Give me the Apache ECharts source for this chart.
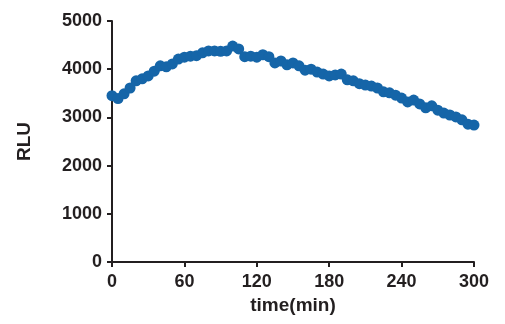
<!DOCTYPE html>
<html lang="en">
<head>
    <meta charset="UTF-8">
    <title>RLU over time</title>
    <script src="https://cdn.jsdelivr.net/npm/echarts@6/dist/echarts.min.js"></script>
</head>
<body style="margin:0;background:#fff">
    <div id="main" style="width:505px;height:324px;"></div>
    <script type="text/javascript">
        // time points (min), one every 5 min
        var times = [];
        for (var t = 0; t <= 300; t += 5) times.push(t);

        // RLU
        var rlu = [3450, 3390, 3490, 3610, 3760, 3800, 3860, 3960, 4070, 4050,
                   4110, 4210, 4250, 4270, 4280, 4340, 4380, 4380, 4370, 4380,
                   4480, 4420, 4260, 4270, 4250, 4300, 4260, 4130, 4170, 4090,
                   4130, 4070, 3980, 4000, 3940, 3900, 3860, 3880, 3900, 3780,
                   3760, 3700, 3670, 3650, 3610, 3530, 3510, 3460, 3400, 3320,
                   3360, 3280, 3200, 3240, 3150, 3090, 3050, 3010, 2950, 2860,
                   2840];

        var xTicks = [0, 60, 120, 180, 240, 300];
        var yTicks = [0, 1000, 2000, 3000, 4000, 5000];

        var points = [];
        for (var i = 0; i < times.length; i++) {
            points.push([times[i], rlu[i]]);
        }

        var myChart = echarts.init(document.getElementById('main'));

        var axisFont = {
            color: '#231f20',
            fontFamily: 'Liberation Sans, Arial, sans-serif',
            fontWeight: 'bold'
        };

        var option = {
            animation: false,
            grid: { left: 112, right: 31, top: 21, bottom: 62 },
            xAxis: {
                type: 'value',
                min: xTicks[0],
                max: xTicks[xTicks.length - 1],
                interval: 60,
                name: 'time(min)',
                nameLocation: 'middle',
                nameGap: 31,
                nameTextStyle: Object.assign({ fontSize: 19 }, axisFont),
                axisLine: { lineStyle: { color: '#231f20', width: 2 } },
                axisTick: { length: 5, lineStyle: { color: '#231f20', width: 2 } },
                axisLabel: Object.assign({ fontSize: 18, margin: 11, formatter: '{value}' }, axisFont),
                splitLine: { show: false }
            },
            yAxis: {
                type: 'value',
                min: yTicks[0],
                max: yTicks[yTicks.length - 1],
                interval: 1000,
                name: 'RLU',
                nameLocation: 'middle',
                nameGap: 78,
                nameTextStyle: Object.assign({ fontSize: 19 }, axisFont),
                axisLine: { show: true, lineStyle: { color: '#231f20', width: 2 } },
                axisTick: { show: true, length: 5, lineStyle: { color: '#231f20', width: 2 } },
                axisLabel: Object.assign({
                    fontSize: 18,
                    margin: 10,
                    formatter: function (v) { return String(v); }
                }, axisFont),
                splitLine: { show: false }
            },
            series: [
                {
                    name: 'RLU',
                    type: 'line',
                    data: points,
                    symbol: 'circle',
                    symbolSize: 11,
                    showAllSymbol: true,
                    itemStyle: { color: '#1565a8' },
                    lineStyle: { color: '#1565a8', width: 4 }
                }
            ]
        };

        myChart.setOption(option);
    </script>
</body>
</html>
